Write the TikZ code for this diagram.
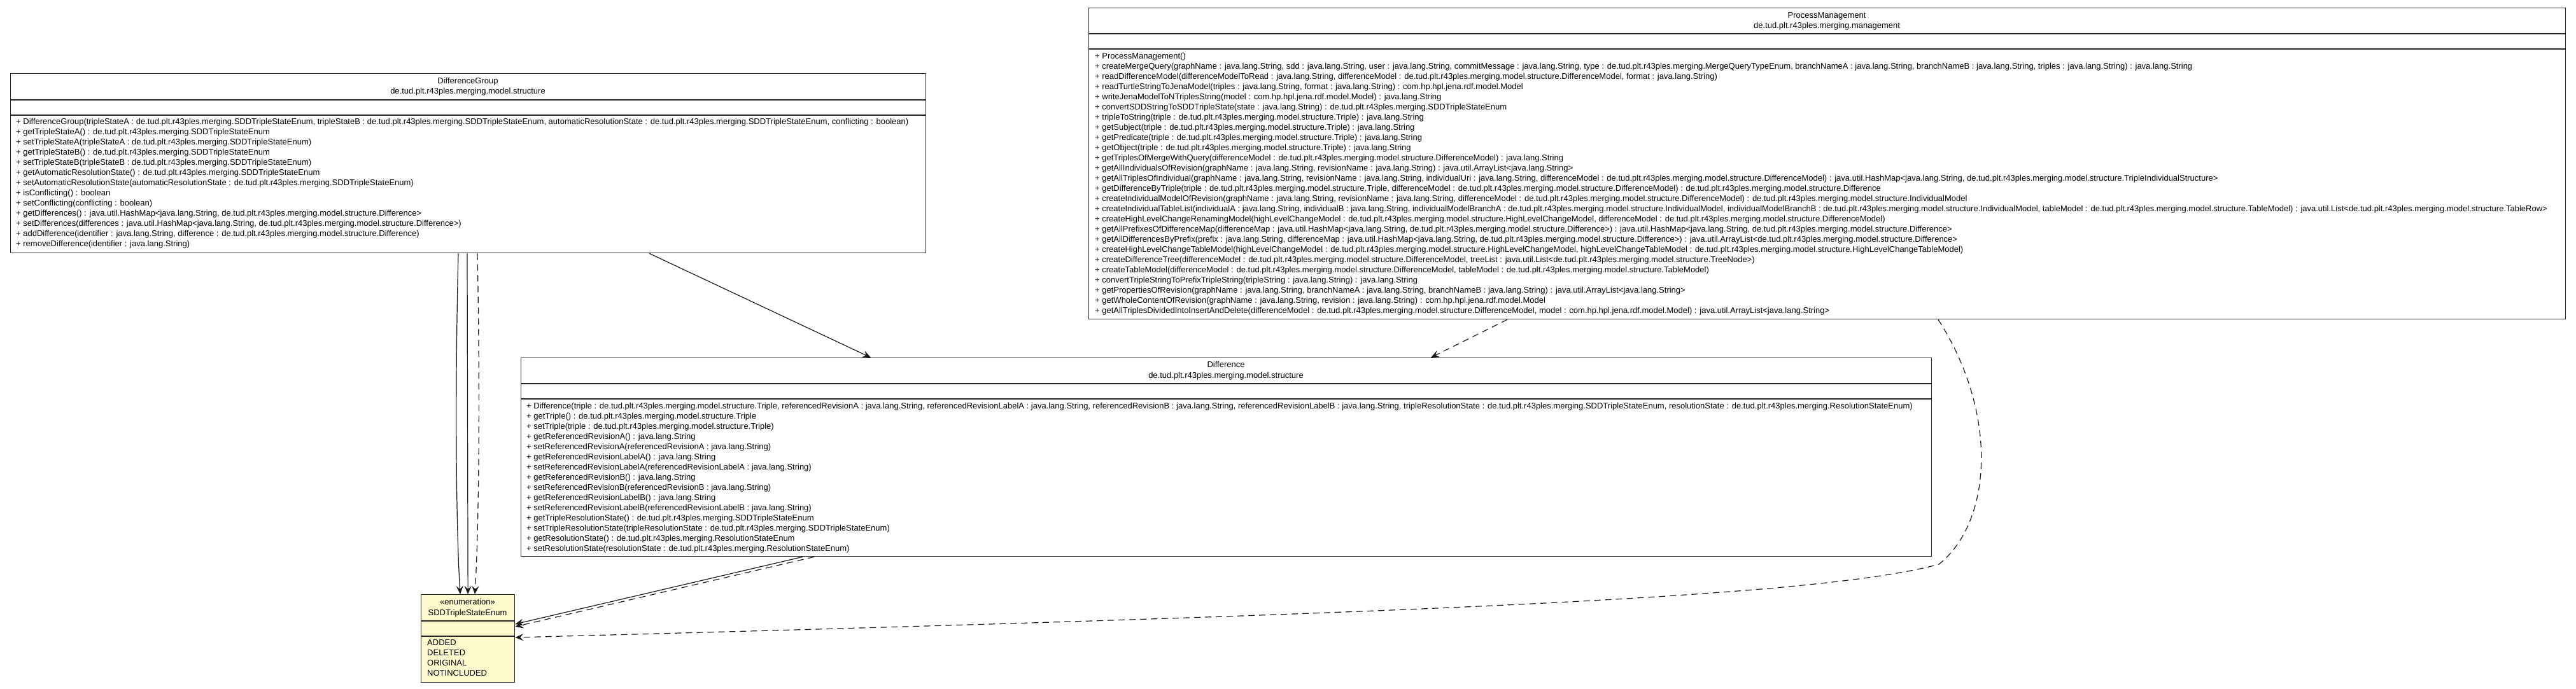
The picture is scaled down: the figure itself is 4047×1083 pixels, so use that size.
\documentclass[tikz,border=0pt]{standalone}
\usepackage{fontspec}
\setmainfont{Liberation Sans}
\usetikzlibrary{arrows.meta,calc}
\begin{document}
\begin{tikzpicture}[x=1pt,y=-1pt,
  umlbox/.style={draw=black!85, line width=1.3pt, inner sep=0pt, anchor=north west},
  enumbox/.style={umlbox, fill={rgb,255:red,255;green,250;blue,205}},
  sepline/.style={draw=black!85, line width=1.3pt},
  ttl/.style={font=\fontsize{13}{16}\selectfont, inner sep=0pt, anchor=base},
  mth/.style={font=\fontsize{13}{16}\selectfont, inner sep=0pt, anchor=base west},
  dep/.style={line width=1.2pt, draw=black!90, -{Stealth[length=13pt,width=11pt,inset=5pt]}},
  depd/.style={dep, dash pattern=on 10pt off 7pt},
]
\fill[white] (0,0) rectangle (4047,1083);
\path[use as bounding box] (0,0) rectangle (4047,1083);

% ---------------- DifferenceGroup ----------------
\node[umlbox, minimum width=1438pt, minimum height=282pt] (dg) at (16,115) {};
\draw[sepline] ($(dg.north west)+(0,42)$) -- ($(dg.north east)+(0,42)$);
\draw[sepline] ($(dg.north west)+(0,66)$) -- ($(dg.north east)+(0,66)$);
\node[ttl] (dgname) at (735,131.6) {DifferenceGroup};
\node[ttl] (dgpkg) at (735,147.6) {de.tud.plt.r43ples.merging.model.structure};
\node[mth] (dgops) at (25,195.6) {\begin{tabular}[t]{@{}l@{}}
+ DifferenceGroup(tripleStateA : de.tud.plt.r43ples.merging.SDDTripleStateEnum, tripleStateB : de.tud.plt.r43ples.merging.SDDTripleStateEnum, automaticResolutionState : de.tud.plt.r43ples.merging.SDDTripleStateEnum, conflicting : boolean)\\
+ getTripleStateA() : de.tud.plt.r43ples.merging.SDDTripleStateEnum\\
+ setTripleStateA(tripleStateA : de.tud.plt.r43ples.merging.SDDTripleStateEnum)\\
+ getTripleStateB() : de.tud.plt.r43ples.merging.SDDTripleStateEnum\\
+ setTripleStateB(tripleStateB : de.tud.plt.r43ples.merging.SDDTripleStateEnum)\\
+ getAutomaticResolutionState() : de.tud.plt.r43ples.merging.SDDTripleStateEnum\\
+ setAutomaticResolutionState(automaticResolutionState : de.tud.plt.r43ples.merging.SDDTripleStateEnum)\\
+ isConflicting() : boolean\\
+ setConflicting(conflicting : boolean)\\
+ getDifferences() : java.util.HashMap<java.lang.String, de.tud.plt.r43ples.merging.model.structure.Difference>\\
+ setDifferences(differences : java.util.HashMap<java.lang.String, de.tud.plt.r43ples.merging.model.structure.Difference>)\\
+ addDifference(identifier : java.lang.String, difference : de.tud.plt.r43ples.merging.model.structure.Difference)\\
+ removeDifference(identifier : java.lang.String)
\end{tabular}};

% ---------------- ProcessManagement ----------------
\node[umlbox, minimum width=2320pt, minimum height=489pt] (pm) at (1710,12) {};
\draw[sepline] ($(pm.north west)+(0,41)$) -- ($(pm.north east)+(0,41)$);
\draw[sepline] ($(pm.north west)+(0,65)$) -- ($(pm.north east)+(0,65)$);
\node[ttl] (pmname) at (2870,28.6) {ProcessManagement};
\node[ttl] (pmpkg) at (2870,44.1) {de.tud.plt.r43ples.merging.management};
\node[mth] (pmops) at (1720,92.6) {\begin{tabular}[t]{@{}l@{}}
+ ProcessManagement()\\
+ createMergeQuery(graphName : java.lang.String, sdd : java.lang.String, user : java.lang.String, commitMessage : java.lang.String, type : de.tud.plt.r43ples.merging.MergeQueryTypeEnum, branchNameA : java.lang.String, branchNameB : java.lang.String, triples : java.lang.String) : java.lang.String\\
+ readDifferenceModel(differenceModelToRead : java.lang.String, differenceModel : de.tud.plt.r43ples.merging.model.structure.DifferenceModel, format : java.lang.String)\\
+ readTurtleStringToJenaModel(triples : java.lang.String, format : java.lang.String) : com.hp.hpl.jena.rdf.model.Model\\
+ writeJenaModelToNTriplesString(model : com.hp.hpl.jena.rdf.model.Model) : java.lang.String\\
+ convertSDDStringToSDDTripleState(state : java.lang.String) : de.tud.plt.r43ples.merging.SDDTripleStateEnum\\
+ tripleToString(triple : de.tud.plt.r43ples.merging.model.structure.Triple) : java.lang.String\\
+ getSubject(triple : de.tud.plt.r43ples.merging.model.structure.Triple) : java.lang.String\\
+ getPredicate(triple : de.tud.plt.r43ples.merging.model.structure.Triple) : java.lang.String\\
+ getObject(triple : de.tud.plt.r43ples.merging.model.structure.Triple) : java.lang.String\\
+ getTriplesOfMergeWithQuery(differenceModel : de.tud.plt.r43ples.merging.model.structure.DifferenceModel) : java.lang.String\\
+ getAllIndividualsOfRevision(graphName : java.lang.String, revisionName : java.lang.String) : java.util.ArrayList<java.lang.String>\\
+ getAllTriplesOfIndividual(graphName : java.lang.String, revisionName : java.lang.String, individualUri : java.lang.String, differenceModel : de.tud.plt.r43ples.merging.model.structure.DifferenceModel) : java.util.HashMap<java.lang.String, de.tud.plt.r43ples.merging.model.structure.TripleIndividualStructure>\\
+ getDifferenceByTriple(triple : de.tud.plt.r43ples.merging.model.structure.Triple, differenceModel : de.tud.plt.r43ples.merging.model.structure.DifferenceModel) : de.tud.plt.r43ples.merging.model.structure.Difference\\
+ createIndividualModelOfRevision(graphName : java.lang.String, revisionName : java.lang.String, differenceModel : de.tud.plt.r43ples.merging.model.structure.DifferenceModel) : de.tud.plt.r43ples.merging.model.structure.IndividualModel\\
+ createIndividualTableList(individualA : java.lang.String, individualB : java.lang.String, individualModelBranchA : de.tud.plt.r43ples.merging.model.structure.IndividualModel, individualModelBranchB : de.tud.plt.r43ples.merging.model.structure.IndividualModel, tableModel : de.tud.plt.r43ples.merging.model.structure.TableModel) : java.util.List<de.tud.plt.r43ples.merging.model.structure.TableRow>\\
+ createHighLevelChangeRenamingModel(highLevelChangeModel : de.tud.plt.r43ples.merging.model.structure.HighLevelChangeModel, differenceModel : de.tud.plt.r43ples.merging.model.structure.DifferenceModel)\\
+ getAllPrefixesOfDifferenceMap(differenceMap : java.util.HashMap<java.lang.String, de.tud.plt.r43ples.merging.model.structure.Difference>) : java.util.HashMap<java.lang.String, de.tud.plt.r43ples.merging.model.structure.Difference>\\
+ getAllDifferencesByPrefix(prefix : java.lang.String, differenceMap : java.util.HashMap<java.lang.String, de.tud.plt.r43ples.merging.model.structure.Difference>) : java.util.ArrayList<de.tud.plt.r43ples.merging.model.structure.Difference>\\
+ createHighLevelChangeTableModel(highLevelChangeModel : de.tud.plt.r43ples.merging.model.structure.HighLevelChangeModel, highLevelChangeTableModel : de.tud.plt.r43ples.merging.model.structure.HighLevelChangeTableModel)\\
+ createDifferenceTree(differenceModel : de.tud.plt.r43ples.merging.model.structure.DifferenceModel, treeList : java.util.List<de.tud.plt.r43ples.merging.model.structure.TreeNode>)\\
+ createTableModel(differenceModel : de.tud.plt.r43ples.merging.model.structure.DifferenceModel, tableModel : de.tud.plt.r43ples.merging.model.structure.TableModel)\\
+ convertTripleStringToPrefixTripleString(tripleString : java.lang.String) : java.lang.String\\
+ getPropertiesOfRevision(graphName : java.lang.String, branchNameA : java.lang.String, branchNameB : java.lang.String) : java.util.ArrayList<java.lang.String>\\
+ getWholeContentOfRevision(graphName : java.lang.String, revision : java.lang.String) : com.hp.hpl.jena.rdf.model.Model\\
+ getAllTriplesDividedIntoInsertAndDelete(differenceModel : de.tud.plt.r43ples.merging.model.structure.DifferenceModel, model : com.hp.hpl.jena.rdf.model.Model) : java.util.ArrayList<java.lang.String>
\end{tabular}};

% ---------------- Difference ----------------
\node[umlbox, minimum width=2216pt, minimum height=312pt] (diff) at (818,562) {};
\draw[sepline] ($(diff.north west)+(0,41)$) -- ($(diff.north east)+(0,41)$);
\draw[sepline] ($(diff.north west)+(0,65)$) -- ($(diff.north east)+(0,65)$);
\node[ttl] (diffname) at (1926,577.6) {Difference};
\node[ttl] (diffpkg) at (1926,594.1) {de.tud.plt.r43ples.merging.model.structure};
\node[mth] (diffops) at (827,642.6) {\begin{tabular}[t]{@{}l@{}}
+ Difference(triple : de.tud.plt.r43ples.merging.model.structure.Triple, referencedRevisionA : java.lang.String, referencedRevisionLabelA : java.lang.String, referencedRevisionB : java.lang.String, referencedRevisionLabelB : java.lang.String, tripleResolutionState : de.tud.plt.r43ples.merging.SDDTripleStateEnum, resolutionState : de.tud.plt.r43ples.merging.ResolutionStateEnum)\\
+ getTriple() : de.tud.plt.r43ples.merging.model.structure.Triple\\
+ setTriple(triple : de.tud.plt.r43ples.merging.model.structure.Triple)\\
+ getReferencedRevisionA() : java.lang.String\\
+ setReferencedRevisionA(referencedRevisionA : java.lang.String)\\
+ getReferencedRevisionLabelA() : java.lang.String\\
+ setReferencedRevisionLabelA(referencedRevisionLabelA : java.lang.String)\\
+ getReferencedRevisionB() : java.lang.String\\
+ setReferencedRevisionB(referencedRevisionB : java.lang.String)\\
+ getReferencedRevisionLabelB() : java.lang.String\\
+ setReferencedRevisionLabelB(referencedRevisionLabelB : java.lang.String)\\
+ getTripleResolutionState() : de.tud.plt.r43ples.merging.SDDTripleStateEnum\\
+ setTripleResolutionState(tripleResolutionState : de.tud.plt.r43ples.merging.SDDTripleStateEnum)\\
+ getResolutionState() : de.tud.plt.r43ples.merging.ResolutionStateEnum\\
+ setResolutionState(resolutionState : de.tud.plt.r43ples.merging.ResolutionStateEnum)
\end{tabular}};

% ---------------- SDDTripleStateEnum ----------------
\node[enumbox, minimum width=147pt, minimum height=138pt] (enum) at (661,934) {};
\draw[sepline] ($(enum.north west)+(0,42)$) -- ($(enum.north east)+(0,42)$);
\draw[sepline] ($(enum.north west)+(0,66)$) -- ($(enum.north east)+(0,66)$);
\node[ttl] (enumst) at (734.5,950) {«enumeration»};
\node[ttl] (enumname) at (734.5,967.6) {SDDTripleStateEnum};
\node[mth] (enumlit) at (671,1014.6) {\begin{tabular}[t]{@{}l@{}}
ADDED\\ DELETED\\ ORIGINAL\\ NOTINCLUDED
\end{tabular}};

% ---------------- connectors ----------------
% DifferenceGroup -> SDDTripleStateEnum
\draw[dep] ($(dg.south west)+(704,0)$) .. controls (715,600) and (716,820) .. ($(enum.north west)+(62,0)$);
\draw[dep] ($(dg.south west)+(718,0)$) -- (enum.north);
\draw[depd] ($(dg.south west)+(734,0)$) .. controls (754,600) and (753,820) .. ($(enum.north west)+(85,0)$);
% DifferenceGroup -> Difference
\draw[dep] ($(dg.south west)+(1004,0)$) -- ($(diff.north west)+(550,0)$);
% ProcessManagement -> Difference
\draw[depd] ($(pm.south west)+(658,0)$) -- ($(diff.north west)+(1430,0)$);
% ProcessManagement -> SDDTripleStateEnum
\draw[depd] ($(pm.south west)+(1335,0)$) .. controls (3140,650) and (3130,820) .. (3046,887)
   .. controls (2850,940) and (2200,965) .. ($(enum.north east)+(0,68)$);
% Difference -> SDDTripleStateEnum
\draw[dep] ($(diff.south west)+(443,0)$) -- ($(enum.north east)+(0,47)$);
\draw[depd] ($(diff.south west)+(461,0)$) -- ($(enum.north east)+(0,51)$);
\end{tikzpicture}
\end{document}
